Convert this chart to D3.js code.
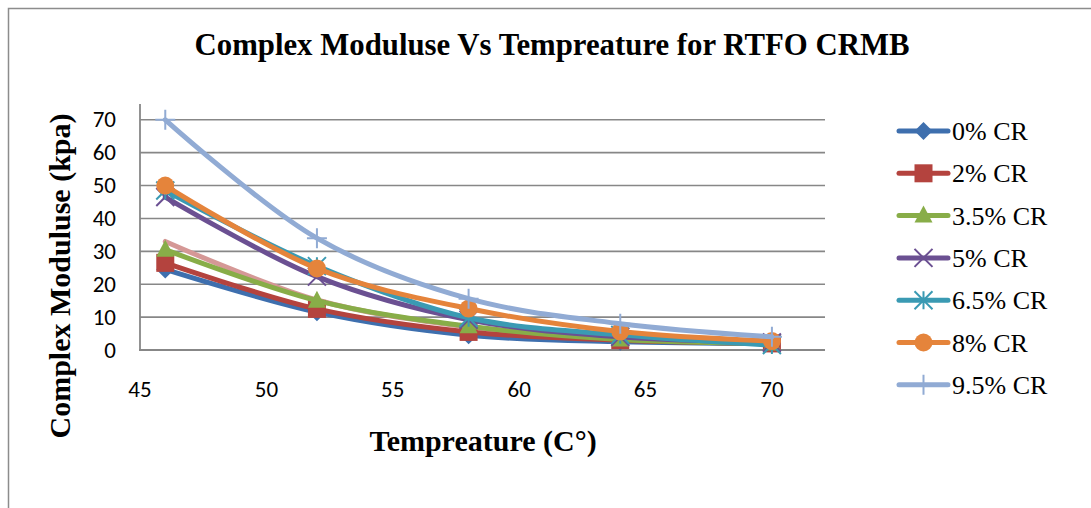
<!DOCTYPE html>
<html><head><meta charset="utf-8">
<script src="https://cdn.jsdelivr.net/npm/d3@7"></script>
<style>body{margin:0;background:#fff}svg{display:block}</style>
</head><body>
<svg id="c" width="1091" height="508"></svg>
<script>
const temps = [46, 52, 58, 64, 70];
const seriesNames = ["0% CR","2% CR","3.5% CR","5% CR","6.5% CR","8% CR","9.5% CR"];
const cr0  = [24.5, 11.5, 4.5, 2.5, 2];
const cr2  = [26.5, 12.5, 5.5, 3, 2];
const cr35 = [30.5, 15, 7.2, 3.2, 2];
const cr5  = [46.5, 22.3, 9.2, 4, 2.3];
const cr65 = [48.5, 25.5, 9.8, 4.6, 1.5];
const cr8  = [50, 24.8, 12.6, 5.6, 2.7];
const cr95 = [70, 34, 15.6, 8, 4];
const crExtra = [33, 15.2, 7, 3.6, 2];   // unlabelled pink series
const xTicks = [45, 50, 55, 60, 65, 70];
const yTicks = [0, 10, 20, 30, 40, 50, 60, 70];

const colors = ["#3e6fae","#b4433e","#88ad48","#6b5092","#3a9ab3","#e5843b","#91abd4"];
const markers = ["diamond","square","triangle","x","asterisk","circle","plus"];
const values = [cr0, cr2, cr35, cr5, cr65, cr8, cr95];

const svg = d3.select("#c");
svg.append("rect").attr("x",8.5).attr("y",8.5).attr("width",1200).attr("height",600)
  .attr("fill","none").attr("stroke","#8c8c8c").attr("stroke-width",1.5);

const x = d3.scaleLinear().domain([45, 72.1]).range([140, 825]);
const y = d3.scaleLinear().domain([0, 74.8]).range([350, 104]);

svg.append("g").selectAll("line").data(yTicks.filter(d=>d>0)).join("line")
  .attr("x1",140).attr("x2",825).attr("y1",d=>y(d)).attr("y2",d=>y(d))
  .attr("stroke","#878787").attr("stroke-width",1.6);

svg.append("line").attr("x1",140).attr("x2",140).attr("y1",104).attr("y2",351)
  .attr("stroke","#878787").attr("stroke-width",1.8);
svg.append("line").attr("x1",139).attr("x2",825).attr("y1",350).attr("y2",350)
  .attr("stroke","#878787").attr("stroke-width",1.8);

const sans = "Carlito, Liberation Sans, Arial, sans-serif";
const serif = "Liberation Serif, Times New Roman, serif";
svg.append("g").selectAll("text").data(yTicks).join("text")
  .attr("x",116).attr("y",d=>y(d)+7.5).attr("text-anchor","end")
  .attr("font-family",sans).attr("font-size",23)
  .text(d=>d);
svg.append("g").selectAll("text").data(xTicks).join("text")
  .attr("x",d=>x(d)).attr("y",397).attr("text-anchor","middle")
  .attr("font-family",sans).attr("font-size",23)
  .text(d=>d);

svg.append("text").attr("x",552).attr("y",55).attr("text-anchor","middle")
  .attr("font-family",serif).attr("font-weight","bold")
  .attr("font-size",31).attr("textLength",715).attr("lengthAdjust","spacingAndGlyphs")
  .text("Complex Moduluse Vs Tempreature  for RTFO  CRMB");
svg.append("text").attr("x",483).attr("y",451).attr("text-anchor","middle")
  .attr("font-family",serif).attr("font-weight","bold")
  .attr("font-size",30).text("Tempreature (C°)");
svg.append("text").attr("transform","translate(70,276) rotate(-90)").attr("text-anchor","middle")
  .attr("font-family",serif).attr("font-weight","bold")
  .attr("font-size",30).text("Complex Moduluse (kpa)");

const line = d3.line().x((d,i)=>x(temps[i])).y(d=>y(d)).curve(d3.curveCatmullRom.alpha(0.5));

function drawMarker(g, type, cx, cy, color){
  const s = 9;
  if(type==="diamond"){
    g.append("path").attr("d",`M${cx},${cy-s}L${cx+s},${cy}L${cx},${cy+s}L${cx-s},${cy}Z`).attr("fill",color);
  } else if(type==="square"){
    g.append("rect").attr("x",cx-s).attr("y",cy-s).attr("width",2*s).attr("height",2*s).attr("fill",color);
  } else if(type==="triangle"){
    g.append("path").attr("d",`M${cx},${cy-s-1}L${cx+s},${cy+s-2}L${cx-s},${cy+s-2}Z`).attr("fill",color);
  } else if(type==="circle"){
    g.append("circle").attr("cx",cx).attr("cy",cy).attr("r",s).attr("fill",color);
  } else if(type==="x"){
    g.append("path").attr("d",`M${cx-s},${cy-s}L${cx+s},${cy+s}M${cx-s},${cy+s}L${cx+s},${cy-s}`)
      .attr("stroke",color).attr("stroke-width",2);
  } else if(type==="asterisk"){
    g.append("path").attr("d",`M${cx-s},${cy-s}L${cx+s},${cy+s}M${cx-s},${cy+s}L${cx+s},${cy-s}M${cx},${cy-s}L${cx},${cy+s}`)
      .attr("stroke",color).attr("stroke-width",2);
  } else if(type==="plus"){
    g.append("path").attr("d",`M${cx-s-1},${cy}L${cx+s+1},${cy}M${cx},${cy-s-1}L${cx},${cy+s+1}`)
      .attr("stroke",color).attr("stroke-width",2);
  }
}

const plot = svg.append("g");
plot.append("path").attr("d",line(crExtra)).attr("fill","none")
  .attr("stroke","#d59896").attr("stroke-width",5).attr("stroke-linecap","round");
values.forEach((vals,k)=>{
  const g = plot.append("g");
  g.append("path").attr("d",line(vals)).attr("fill","none")
    .attr("stroke",colors[k]).attr("stroke-width",5).attr("stroke-linecap","round");
  vals.forEach((v,i)=>drawMarker(g, markers[k], x(temps[i]), y(v), colors[k]));
});

const leg = svg.append("g");
seriesNames.forEach((n,k)=>{
  const cy = 131 + k*42.3;
  const g = leg.append("g");
  g.append("line").attr("x1",899).attr("x2",948).attr("y1",cy).attr("y2",cy)
    .attr("stroke",colors[k]).attr("stroke-width",5).attr("stroke-linecap","round");
  drawMarker(g, markers[k], 923.5, cy, colors[k]);
  g.append("text").attr("x",952).attr("y",cy+9).attr("font-family",serif)
    .attr("font-size",26).text(n);
});
</script>
</body></html>
